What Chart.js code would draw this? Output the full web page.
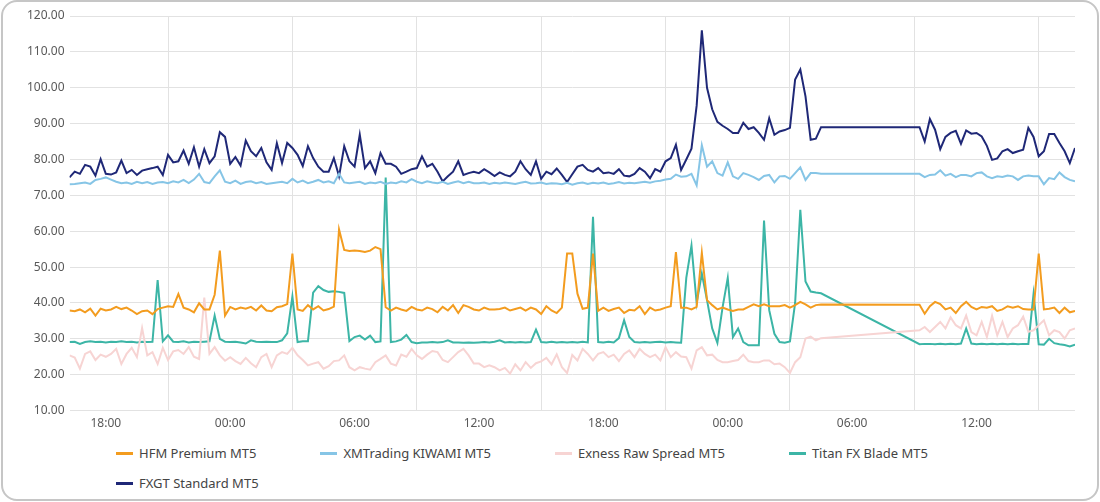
<!DOCTYPE html>
<html>
<head>
<meta charset="utf-8">
<title>Spread comparison</title>
<script src="https://cdn.jsdelivr.net/npm/chart.js@4.4.0/dist/chart.umd.min.js"></script>
<style>
    html, body { margin: 0; padding: 0; background: #fff; }
    body { width: 1100px; height: 502px; position: relative; overflow: hidden; font-family: "Noto Sans", sans-serif; }
    .card { position: absolute; left: 1px; top: 0; width: 1098px; height: 501px; box-sizing: border-box; border: 2px solid #c6c6c6; border-radius: 16px; }
    #chart { position: absolute; left: 0; top: 0; }
    #legend { position: absolute; left: 116px; top: 444px; width: 900px; display: flex; flex-wrap: wrap; column-gap: 64px; row-gap: 12px; font-size: 13px; color: #444; }
    .item { display: flex; align-items: center; height: 18px; white-space: nowrap; }
    .item .box { width: 17px; height: 3px; margin-right: 6px; }
</style>
</head>
<body>
<div class="card"></div>
<canvas id="chart" width="1100" height="440" style="width:1100px;height:440px"></canvas>
<div id="legend"></div>
<script>
// hours counted from 00:00 of the first day, 15 minute samples (no data 04:30-09:15 on day 3)
const times = [
    16.25,16.5,16.75,17,17.25,17.5,17.75,18,
    18.25,18.5,18.75,19,19.25,19.5,19.75,20,
    20.25,20.5,20.75,21,21.25,21.5,21.75,22,
    22.25,22.5,22.75,23,23.25,23.5,23.75,24,
    24.25,24.5,24.75,25,25.25,25.5,25.75,26,
    26.25,26.5,26.75,27,27.25,27.5,27.75,28,
    28.25,28.5,28.75,29,29.25,29.5,29.75,30,
    30.25,30.5,30.75,31,31.25,31.5,31.75,32,
    32.25,32.5,32.75,33,33.25,33.5,33.75,34,
    34.25,34.5,34.75,35,35.25,35.5,35.75,36,
    36.25,36.5,36.75,37,37.25,37.5,37.75,38,
    38.25,38.5,38.75,39,39.25,39.5,39.75,40,
    40.25,40.5,40.75,41,41.25,41.5,41.75,42,
    42.25,42.5,42.75,43,43.25,43.5,43.75,44,
    44.25,44.5,44.75,45,45.25,45.5,45.75,46,
    46.25,46.5,46.75,47,47.25,47.5,47.75,48,
    48.25,48.5,48.75,49,49.25,49.5,49.75,50,
    50.25,50.5,50.75,51,51.25,51.5,51.75,52,
    52.25,52.5,
    57.25,57.5,57.75,58,
    58.25,58.5,58.75,59,59.25,59.5,59.75,60,
    60.25,60.5,60.75,61,61.25,61.5,61.75,62,
    62.25,62.5,62.75,63,63.25,63.5,63.75,64,
    64.25,64.5,64.75
];

const hfm = [
    37.9,37.7,38.2,37.4,38.4,36.5,38.4,37.9,38.2,38.9,38.3,38.7,37.9,36.9,37.7,37.9,36.9,38.3,38.7,39.1,
    38.9,42.5,38.7,38.2,37.4,39.9,38.2,38.2,42.3,54.6,36.5,38.9,38.2,38.7,38.4,38.9,37.9,39.3,37.9,37.7,
    38.8,39.1,39.7,53.8,38.2,37.8,39.4,38.2,39.1,37.9,38.3,39.0,60.5,54.8,54.5,54.6,54.5,54.2,54.6,55.6,
    55.0,38.8,37.9,38.7,38.2,37.8,38.9,38.2,37.9,38.7,38.3,37.4,38.9,37.9,39.4,37.2,39.4,38.9,38.2,
    37.9,38.7,38.2,38.2,38.3,38.7,37.9,38.3,38.7,37.9,38.7,38.2,36.9,39.1,37.9,37.2,38.7,53.8,53.8,42.6,
    38.4,38.7,53.8,37.8,38.7,37.8,38.3,38.7,37.2,38.1,37.9,39.1,36.9,38.7,37.9,38.2,38.7,39.1,54.2,38.7,
    38.7,38.2,38.9,54.0,40.8,39.4,38.2,38.7,38.2,37.8,38.2,38.2,38.9,39.6,39.1,39.6,39.1,39.1,39.1,39.4,
    38.7,39.4,40.3,39.6,38.7,39.4,39.6,
    39.5,37.0,39.1,40.3,39.7,38.2,38.7,37.2,39.1,40.3,38.9,38.2,38.9,38.7,39.1,37.8,38.2,39.1,38.7,39.1,
    38.3,38.2,38.2,53.8,38.2,38.4,38.7,37.2,38.7,37.4,37.8
];

const xm = [
    73.1,73.2,73.4,73.6,73.2,74.3,74.6,75.0,74.4,73.8,73.4,73.6,73.2,73.8,73.4,73.7,73.2,73.6,73.7,73.4,
    73.9,73.6,74.3,73.4,74.4,76.0,73.7,73.4,75.3,77.0,73.8,73.4,74.1,73.2,73.7,73.9,73.4,73.7,73.2,73.4,
    73.6,73.8,73.4,74.6,73.6,74.1,73.4,73.8,74.3,73.6,73.9,73.4,76.0,73.6,73.4,73.6,73.8,73.2,73.6,73.4,
    73.8,73.2,73.6,73.4,73.9,73.6,74.5,73.8,73.4,73.9,73.6,73.4,73.8,73.2,73.6,73.9,73.4,73.8,73.4,
    73.4,73.6,73.2,73.5,73.3,73.6,73.4,73.2,73.5,73.8,73.3,73.4,73.6,73.2,73.4,73.3,73.1,73.5,73.0,73.4,
    73.6,73.2,73.5,73.3,73.6,73.2,73.4,73.7,73.3,73.5,73.4,73.6,73.8,73.5,73.9,74.1,74.4,74.6,75.8,75.2,
    75.3,76.0,72.8,84.0,78.0,79.5,76.2,75.5,79.2,75.3,74.6,76.2,75.7,75.1,74.3,75.4,75.7,73.6,75.3,75.4,
    74.6,76.2,77.8,74.3,76.2,76.2,76.0,
    76.0,75.1,75.7,75.8,77.0,75.5,76.0,75.1,75.7,75.7,75.3,76.2,76.4,75.3,74.8,75.3,75.1,75.5,75.3,74.3,
    75.3,75.5,75.3,75.3,73.1,74.8,74.5,76.4,75.1,74.3,73.9
];

const exness = [
    25.4,24.8,21.7,25.8,26.5,24.1,25.6,25.0,25.8,27.2,23.0,25.8,27.5,24.9,33.0,25.4,26.3,23.0,27.5,24.1,
    26.5,26.9,25.8,27.7,25.0,24.4,41.5,25.8,27.7,25.4,23.9,24.9,23.8,23.0,24.7,23.2,22.1,24.9,25.8,22.1,
    25.4,26.3,25.8,27.5,25.4,24.1,22.6,23.1,23.5,21.7,22.4,23.8,24.0,25.4,22.1,21.2,22.1,21.7,21.4,23.5,
    24.4,25.4,23.1,22.6,25.6,25.0,27.2,25.4,24.4,25.6,26.6,26.3,24.1,23.5,24.9,26.3,27.2,25.4,23.1,
    23.1,22.1,22.6,22.1,21.2,21.9,20.3,22.9,21.2,23.5,21.9,23.2,23.7,24.7,22.9,25.7,22.1,20.5,25.5,24.0,
    27.2,25.8,24.0,25.8,26.3,24.9,25.6,23.8,25.8,26.8,24.9,27.2,25.8,24.9,25.6,24.0,27.7,24.9,26.3,25.1,
    24.9,21.7,26.8,27.7,25.4,25.6,24.1,23.5,23.5,23.8,24.1,25.6,23.8,23.5,23.5,24.0,24.0,22.9,23.1,22.1,
    20.5,23.5,24.9,30.1,30.6,29.6,30.2,
    32.4,33.3,31.9,33.3,34.7,32.9,36.0,33.8,32.9,36.5,31.9,31.0,34.7,30.5,36.4,31.0,34.7,30.5,32.9,33.8,
    36.2,32.0,32.4,33.8,35.2,31.0,32.4,31.9,30.1,32.4,32.9
];

const titan = [
    29.1,29.2,28.6,29.1,29.3,29.1,29.2,29.0,29.2,29.1,29.3,29.1,29.2,29.0,29.2,29.1,29.2,46.4,29.3,31.0,
    29.2,29.1,29.3,29.0,29.2,29.1,29.2,29.3,36.5,30.0,29.2,29.1,29.2,29.0,28.7,29.6,29.2,29.1,29.2,29.1,
    29.1,29.6,31.5,41.8,29.1,29.3,29.3,42.9,44.7,43.6,43.1,43.3,43.1,42.8,29.4,30.5,30.9,29.8,30.9,29.1,
    29.3,75.0,29.1,29.3,29.8,31.1,29.1,28.8,29.0,29.0,29.1,29.0,29.1,29.6,29.0,29.0,28.9,29.0,28.9,
    29.0,29.1,29.0,29.2,29.6,29.0,29.1,29.0,29.1,29.0,29.1,32.6,29.1,29.0,29.2,29.0,29.1,29.0,29.1,29.0,
    29.2,29.0,64.0,29.1,29.0,29.2,29.0,30.2,35.2,30.5,29.1,29.0,29.1,29.0,29.1,29.2,29.0,29.1,29.0,28.9,
    47.0,56.0,40.0,48.2,40.8,32.9,28.9,38.8,47.0,30.5,32.9,29.1,28.2,28.2,28.2,63.0,38.0,31.4,29.1,28.9,
    29.3,40.0,66.0,46.0,43.2,42.9,42.7,
    28.5,28.6,28.6,28.5,28.6,28.5,28.6,28.5,28.7,32.9,28.7,28.5,28.6,28.5,28.6,28.5,28.6,28.5,28.6,28.5,
    28.6,28.6,42.5,28.5,28.4,30.0,28.8,28.5,28.3,27.9,28.4
];

const fxgt = [
    75.0,76.6,76.0,78.5,78.0,75.5,80.1,76.0,75.8,76.4,79.7,76.2,77.1,75.7,76.9,77.3,77.6,78.0,75.7,81.3,
    79.2,79.5,82.5,78.8,83.4,78.0,82.9,79.0,80.9,87.6,86.3,78.8,80.7,78.3,85.3,82.3,80.9,83.2,79.2,77.1,
    84.5,79.0,84.6,83.2,81.3,78.2,83.7,80.4,78.0,76.6,76.6,80.4,75.3,83.7,79.5,78.0,86.9,77.6,79.5,76.2,
    81.8,78.8,78.8,78.0,76.0,76.6,77.3,77.6,80.9,78.0,78.8,76.6,73.9,75.3,76.6,79.5,75.7,76.2,76.6,
    76.2,77.3,76.4,75.4,76.4,75.7,75.3,76.6,79.5,77.3,75.7,79.5,74.6,76.6,75.9,77.5,75.7,73.7,75.9,78.0,
    78.5,77.1,76.6,77.6,76.2,76.4,76.0,77.3,75.5,75.3,76.0,77.6,76.6,74.8,77.3,76.6,79.5,80.4,84.1,77.1,
    80.0,83.0,95.0,116.0,100.0,94.0,90.5,89.4,88.5,87.4,87.4,90.2,88.5,89.0,87.4,85.5,91.5,86.9,87.8,88.2,
    88.8,102.3,105.1,97.6,85.5,85.8,89.0,
    89.0,85.0,91.3,88.3,82.9,86.3,87.4,88.0,84.4,88.1,87.2,87.4,86.4,83.8,79.9,80.3,82.3,82.9,81.8,82.3,
    82.7,88.8,86.3,80.9,82.3,87.1,87.1,84.6,82.3,79.0,83.2
];

const seriesNames = ['HFM Premium MT5', 'XMTrading KIWAMI MT5', 'Exness Raw Spread MT5', 'Titan FX Blade MT5', 'FXGT Standard MT5'];
const seriesValues = [hfm, xm, exness, titan, fxgt];
const seriesColors = ['#f39c1f', '#86c5e6', '#f7d4d3', '#3cb5a6', '#1f2877'];

const xTickHours = [18, 24, 30, 36, 42, 48, 54, 60];
const yTickValues = [10, 20, 30, 40, 50, 60, 70, 80, 90, 100, 110, 120];

Chart.defaults.font.family = "'Noto Sans', sans-serif";
Chart.defaults.font.size = 12;
Chart.defaults.color = '#595959';

const datasets = seriesNames.map((name, i) => ({
    label: name,
    data: times.map((t, j) => ({x: t, y: seriesValues[i][j]})),
    borderColor: seriesColors[i],
    backgroundColor: seriesColors[i],
    borderWidth: 2,
    pointRadius: 0,
    tension: 0,
    fill: false
}));

const pad2 = n => (n < 10 ? '0' : '') + n;

const chart = new Chart(document.getElementById('chart'), {
    type: 'line',
    data: {datasets: datasets},
    options: {
        responsive: false,
        animation: false,
        devicePixelRatio: 1,
        layout: {padding: {left: 22, right: 25, top: 16, bottom: 3}},
        plugins: {
            legend: {display: false},
            tooltip: {enabled: false}
        },
        scales: {
            x: {
                type: 'linear',
                min: times[0],
                max: times[times.length - 1],
                afterBuildTicks: scale => { scale.ticks = xTickHours.map(v => ({value: v})); },
                grid: {offset: true, color: '#e2e2e2', drawTicks: false},
                border: {display: false},
                ticks: {
                    padding: 6,
                    maxRotation: 0,
                    autoSkip: false,
                    callback: v => pad2(v % 24) + ':00'
                }
            },
            y: {
                min: 10,
                max: 120,
                afterBuildTicks: scale => { scale.ticks = yTickValues.map(v => ({value: v})); },
                grid: {color: '#e2e2e2', drawTicks: false},
                border: {display: false},
                ticks: {
                    padding: 5,
                    callback: v => v.toFixed(2)
                }
            }
        }
    }
});

// legend below the chart
const legend = document.getElementById('legend');
chart.data.datasets.forEach(ds => {
    legend.innerHTML += `<div class="item"><span class="box" style="background:${ds.borderColor}"></span>${ds.label}</div>`;
});
</script>
</body>
</html>
